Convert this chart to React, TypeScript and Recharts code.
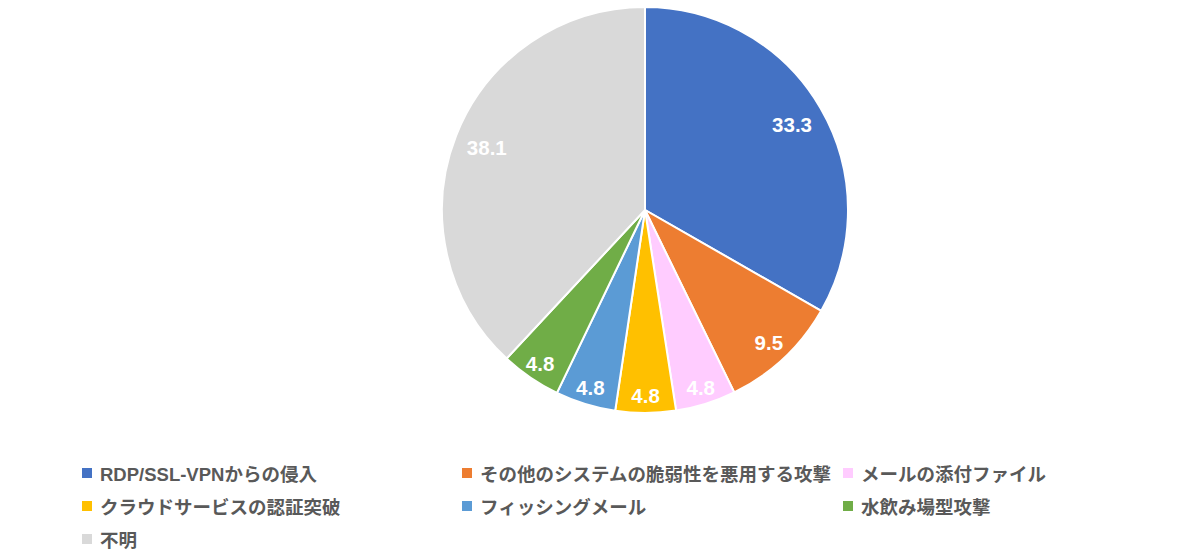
import { PieChart, Pie, Cell, Legend } from 'recharts';

const categories = [
  'RDP/SSL-VPNからの侵入',
  'その他のシステムの脆弱性を悪用する攻撃',
  'メールの添付ファイル',
  'クラウドサービスの認証突破',
  'フィッシングメール',
  '水飲み場型攻撃',
  '不明',
];
const shares = [33.3, 9.5, 4.8, 4.8, 4.8, 4.8, 38.1];
const colors = ['#4472C4', '#ED7D31', '#FFCCFF', '#FFC000', '#5B9BD5', '#70AD47', '#D9D9D9'];

const data = categories.map((name, i) => ({ name, value: shares[i] }));

const FONT = '"Liberation Sans", "Noto Sans CJK JP", sans-serif';
const RAD = Math.PI / 180;

// Excel "best fit" style: small slices get their label pushed toward the rim
function renderLabel(props: any) {
  const { cx, cy, midAngle, value } = props;
  const r = value > 20 ? 170 : value > 8 ? 181 : 186;
  const x = cx + r * Math.cos(-midAngle * RAD);
  const y = cy + r * Math.sin(-midAngle * RAD);
  return (
    <text x={x} y={y} fill="#FFFFFF" textAnchor="middle" dominantBaseline="central"
      fontFamily={FONT} fontWeight="bold" fontSize={20.5}>
      {value.toFixed(1)}
    </text>
  );
}

function LegendGrid() {
  const colX = [82, 462, 843];
  const rowY = [473, 506, 539];
  return (
    <div style={{ position: 'absolute', left: 0, top: 0, width: 1178, height: 556 }}>
      {categories.map((name, i) => (
        <div key={name} style={{
          position: 'absolute', left: colX[i % 3], top: rowY[Math.floor(i / 3)] - 14, height: 28,
          display: 'flex', alignItems: 'center', whiteSpace: 'nowrap',
          fontFamily: FONT, fontWeight: 'bold', fontSize: 18.5, color: '#595959',
        }}>
          <span style={{ display: 'inline-block', width: 10, height: 10, background: colors[i], marginRight: 8 }} />
          {name}
        </div>
      ))}
    </div>
  );
}

export default function App() {
  return (
    <div style={{ position: 'absolute', left: 0, top: 0, width: 1178, height: 556, background: '#fff' }}>
      <PieChart width={1178} height={556} margin={{ top: 0, right: 0, bottom: 0, left: 0 }}>
        <Pie
          data={data}
          dataKey="value"
          nameKey="name"
          cx={645}
          cy={210}
          outerRadius={203}
          startAngle={90}
          endAngle={-270}
          stroke="#FFFFFF"
          strokeWidth={2}
          label={renderLabel}
          labelLine={false}
          isAnimationActive={false}
        >
          {data.map((d, i) => (
            <Cell key={d.name} fill={colors[i]} />
          ))}
        </Pie>
        <Legend content={() => null} />
      </PieChart>
      <LegendGrid />
    </div>
  );
}
